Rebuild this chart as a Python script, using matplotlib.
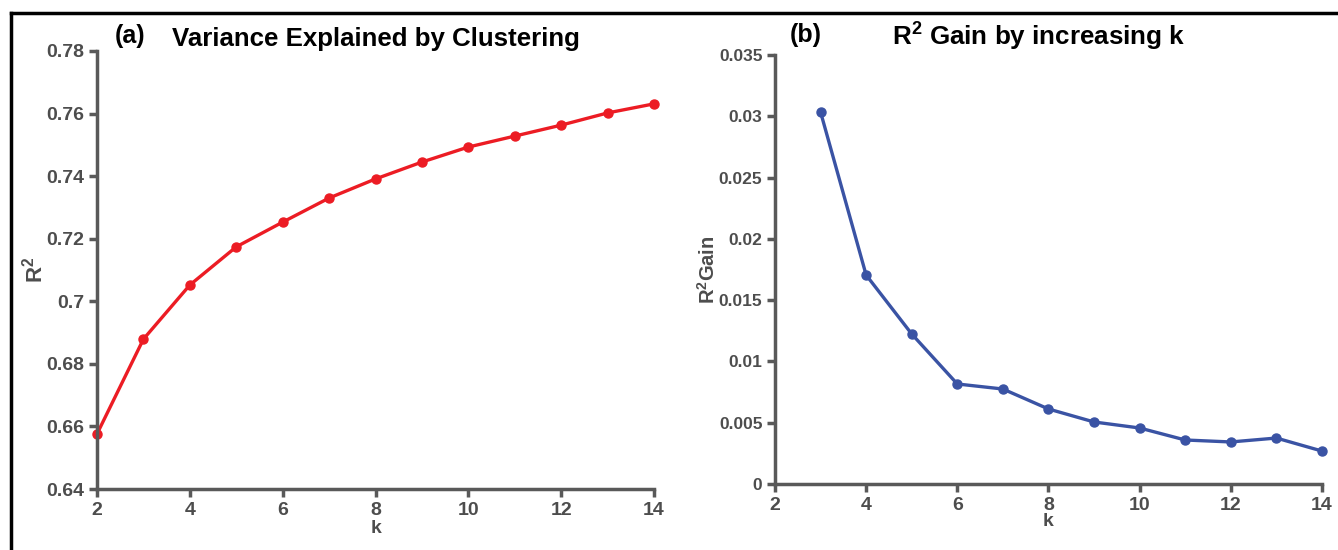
import matplotlib.pyplot as plt
from matplotlib.lines import Line2D

plt.rcParams['font.family'] = ['Liberation Sans', 'DejaVu Sans']
plt.rcParams['font.weight'] = 'bold'
plt.rcParams['mathtext.fontset'] = 'custom'
plt.rcParams['mathtext.rm'] = 'Liberation Sans:bold'
plt.rcParams['mathtext.it'] = 'Liberation Sans:bold'
plt.rcParams['mathtext.bf'] = 'Liberation Sans:bold'

# R^2 for each number of clusters
k_vals = [2, 3, 4, 5, 6, 7, 8, 9, 10, 11, 12, 13, 14]
r2_vals = [0.6576, 0.6879, 0.7052, 0.7174, 0.7253, 0.7330, 0.7391,
           0.7445, 0.7493, 0.7528, 0.7563, 0.7602, 0.7631]

# gain in R^2 when going from k-1 to k
k_gain = [3, 4, 5, 6, 7, 8, 9, 10, 11, 12, 13, 14]
gain_vals = [0.03035, 0.01705, 0.01224, 0.00816, 0.00775, 0.00612,
             0.00506, 0.00457, 0.00359, 0.00343, 0.00375, 0.00269]

x_ticks = [2, 4, 6, 8, 10, 12, 14]
r2_ticks = [0.64, 0.66, 0.68, 0.70, 0.72, 0.74, 0.76, 0.78]
r2_labels = ['0.64', '0.66', '0.68', '0.7', '0.72', '0.74', '0.76', '0.78']
gain_ticks = [0, 0.005, 0.01, 0.015, 0.02, 0.025, 0.03, 0.035]
gain_labels = ['0', '0.005', '0.01', '0.015', '0.02', '0.025', '0.03', '0.035']

axis_grey = '#595959'
text_grey = '#4d4d4d'

fig = plt.figure(figsize=(13.38, 5.5), dpi=100)
ax1 = fig.add_axes([0.0725, 0.1109, 0.4163, 0.7964])
ax2 = fig.add_axes([0.5792, 0.12, 0.4088, 0.78])


def style_axis(ax, size):
    for s in ['top', 'right']:
        ax.spines[s].set_visible(False)
    for s in ['left', 'bottom']:
        ax.spines[s].set_color(axis_grey)
        ax.spines[s].set_linewidth(2.5)
    ax.tick_params(direction='out', length=6, width=2.5, color=axis_grey,
                   labelcolor=text_grey, labelsize=size, pad=3)
    for lab in ax.get_xticklabels() + ax.get_yticklabels():
        lab.set_fontweight('bold')


# (a) R^2 against k
ax1.plot(k_vals, r2_vals, color='#ec1c24', lw=2.4, marker='o', ms=6.5, clip_on=False)
ax1.set_xlim(2, 14)
ax1.set_ylim(0.64, 0.78)
ax1.set_xticks(x_ticks)
ax1.set_yticks(r2_ticks)
ax1.set_yticklabels(r2_labels)
style_axis(ax1, 14)
ax1.set_xlabel('k', color=text_grey, fontsize=14, fontweight='bold', labelpad=1)
ax1.set_ylabel('R$^2$', color=text_grey, fontsize=16, fontweight='bold', labelpad=-1)
fig.text(0.0855, 0.934, '(a)', fontsize=18, fontweight='bold', va='center')
fig.text(0.1285, 0.929, 'Variance Explained by Clustering', fontsize=18.6,
         fontweight='bold', va='center')

# (b) gain in R^2
ax2.plot(k_gain, gain_vals, color='#3a53a4', lw=2.4, marker='o', ms=6.5, clip_on=False)
ax2.set_xlim(2, 14)
ax2.set_ylim(0, 0.035)
ax2.set_xticks(x_ticks)
ax2.set_yticks(gain_ticks)
ax2.set_yticklabels(gain_labels)
style_axis(ax2, 12.5)
ax2.tick_params(axis='x', labelsize=14)
ax2.set_xlabel('k', color=text_grey, fontsize=14, fontweight='bold', labelpad=0)
ax2.set_ylabel('R$^2$Gain', color=text_grey, fontsize=14.5, fontweight='bold',
               labelpad=0)
fig.text(0.5905, 0.937, '(b)', fontsize=18, fontweight='bold', va='center')
fig.text(0.667, 0.932, 'R$^2$ Gain by increasing k', fontsize=18.7, fontweight='bold',
         va='center')

# frame lines along the top and left edges
fig.add_artist(Line2D([0.0082, 1.0], [0.9764, 0.9764], color='black', lw=2.5,
                      transform=fig.transFigure))
fig.add_artist(Line2D([0.0085, 0.0085], [0.0, 0.9764], color='black', lw=2.5,
                      transform=fig.transFigure))

fig.savefig('out.png', dpi=100)
